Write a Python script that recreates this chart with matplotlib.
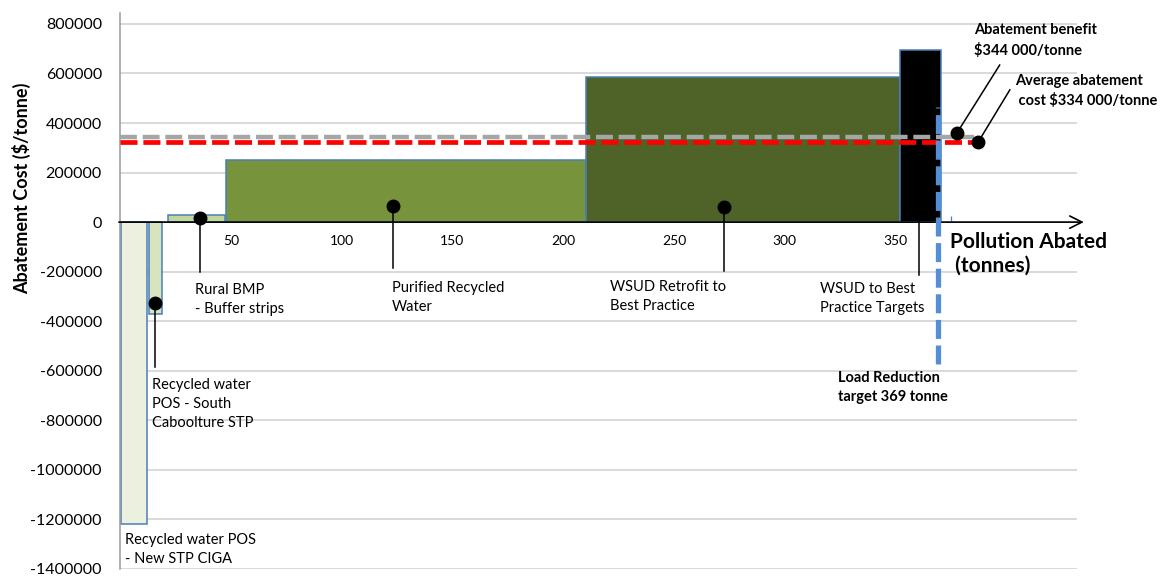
import numpy as np
import matplotlib.pyplot as plt

plt.rcParams['font.family'] = ['Lato', 'DejaVu Sans']

# measures, left to right along the abatement curve (tonnes, $/tonne)
measures = ["Recycled water POS\n- New STP CIGA",
            "Recycled water\nPOS - South\nCaboolture STP",
            "Rural BMP\n- Buffer strips",
            "Purified Recycled\nWater",
            "WSUD Retrofit to\nBest Practice",
            "WSUD to Best\nPractice Targets"]
starts = [0.5, 13.2, 21.8, 47.8, 210.3, 352.0]
widths = [11.7, 5.9, 25.7, 162.5, 141.7, 18.3]
costs = [-1220000, -370000, 30000, 250000, 585000, 695000]
colors = ["#EBF1DE", "#D7E4BD", "#C3D69B", "#77933C", "#4F6228", "#000000"]

benefit = 345000      # grey dashed line
avg_cost = 325000     # red dashed line
target = 369          # load reduction target (tonnes)

yticks = list(range(-1400000, 800001, 200000))
xticks = [50, 100, 150, 200, 250, 300, 350]

fig = plt.figure(figsize=(11.63, 5.78), dpi=100)
ax = fig.add_axes([120/1163, 9/578, 957/1163, 556/578])
ax.set_xlim(0, 431.9)
ax.set_ylim(-1400000, 844000)

ax.bar(starts, costs, width=widths, align='edge', color=colors,
       edgecolor='#4A7EBB', linewidth=1.1, zorder=2)

# axes styling
for s in ['top', 'right', 'bottom']:
    ax.spines[s].set_visible(False)
ax.spines['left'].set_color('#9A9A9A')
ax.spines['left'].set_linewidth(1.1)
ax.set_yticks(yticks)
ax.set_yticklabels([str(v) for v in yticks])
ax.tick_params(axis='y', length=0, pad=13, labelsize=11.5)
ax.yaxis.grid(True, color='#D0D0D0', lw=1.1, zorder=0)
ax.set_axisbelow(True)

ax.set_xticks(xticks)
ax.set_xticklabels([str(v) for v in xticks])
ax.set_xticks(np.arange(25, 400, 50), minor=True)
ax.xaxis.set_ticks_position('bottom')
ax.spines['bottom'].set_position(('data', 0))
ax.tick_params(axis='x', which='major', direction='in', length=11, width=0.9,
               color='#4F81BD', labelsize=10, pad=9)
ax.tick_params(axis='x', which='minor', direction='in', length=4, width=0.9,
               color='#4F81BD')
for t in ax.xaxis.get_ticklines() + ax.xaxis.get_ticklines(minor=True):
    t.set_zorder(3)

# zero axis with arrow
ax.annotate('', xy=(435, 0), xytext=(-0.5, 0),
            arrowprops=dict(arrowstyle='->', lw=1.2, color='black', mutation_scale=22,
                            shrinkA=0, shrinkB=0),
            annotation_clip=False, zorder=4)

# benefit / average cost lines
ax.plot([0, 385.4], [benefit, benefit], color='#A6A6A6', lw=3.2, dashes=(3.8, 1.3),
        zorder=5, dash_capstyle='butt')
ax.plot([0, 385.4], [avg_cost, avg_cost], color='#FF0000', lw=3.4, dashes=(3.6, 1.25),
        zorder=5, dash_capstyle='butt')

# load reduction target
ax.plot([target, target], [-574000, 465000], color='#558ED5', lw=3.8,
        dashes=(3.6, 1.25), zorder=6, dash_capstyle='butt')

# leader lines with dots
leaders = [(15.9, -327000, -584000), (36.1, 16000, -200000), (123.3, 67000, -187000),
           (272.6, 60000, -196000), (360.4, 60000, -212000)]
for x, y0, y1 in leaders:
    ax.plot([x, x], [y0, y1], color='black', lw=1.1, zorder=7)
    ax.plot(x, y0, 'o', color='black', ms=9, zorder=8)

text_pos = [(2.3, -1320600), (14.6, -733000), (33.8, -312600), (122.6, -304600),
            (221.1, -300600), (315.7, -308600)]
for lab, (x, y) in zip(measures, text_pos):
    ax.text(x, y, lab, fontsize=10.5, ha='left', va='center', linespacing=1.45, zorder=9)

ax.text(324, -668000, "Load Reduction\ntarget 369 tonne", fontsize=10.5, fontweight='bold',
        ha='left', va='center', linespacing=1.45)

# callouts for benefit and cost
ax.plot([397, 377.6], [634000, 358000], color='black', lw=1.1, zorder=7, clip_on=False)
ax.plot(377.6, 358000, 'o', color='black', ms=9, zorder=8, clip_on=False)
ax.text(385.4, 733500, "Abatement benefit\n$344 000/tonne", fontsize=10.5,
        fontweight='bold', ha='left', va='center', linespacing=1.45)
ax.plot([401.6, 387.3], [534000, 323000], color='black', lw=1.1, zorder=7, clip_on=False)
ax.plot(387.3, 323000, 'o', color='black', ms=9, zorder=8, clip_on=False)
ax.text(403.9, 530000, "Average abatement\n cost $334 000/tonne", fontsize=10.5,
        fontweight='bold', ha='left', va='center', linespacing=1.45)

ax.text(374.5, -128000, "Pollution Abated\n (tonnes)", fontsize=15, fontweight='bold',
        ha='left', va='center', linespacing=1.2)

fig.text(22/1163, 1 - 188/578, "Abatement Cost ($/tonne)", rotation=90, fontsize=13,
         fontweight='bold', ha='center', va='center')

fig.savefig('out.png', dpi=100)
